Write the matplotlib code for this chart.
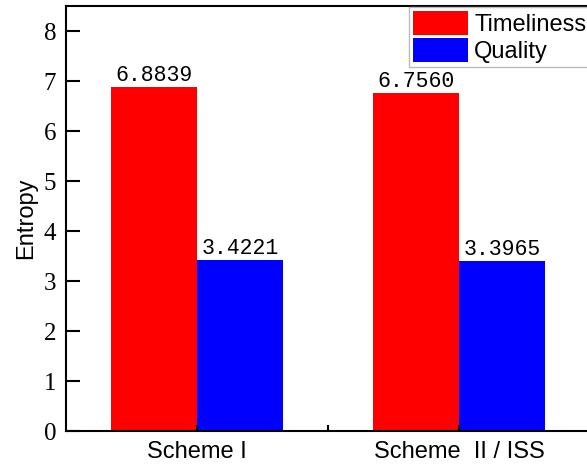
import matplotlib
matplotlib.use('Agg')
import matplotlib.pyplot as plt
import numpy as np

# data
groups = ['Scheme I', 'Scheme  II / ISS']
timeliness = [6.8839, 6.7560]
quality = [3.4221, 3.3965]
series_names = ['Timeliness', 'Quality']

fig = plt.figure(figsize=(5.87, 4.65), dpi=100)
ax = fig.add_axes([66/587, 34/465, 524/587, 425/465])

x = np.arange(1, len(groups) + 1)
w = 0.33
b1 = ax.bar(x - w/2, timeliness, w, color='#ff0000', label=series_names[0], zorder=1)
b2 = ax.bar(x + w/2, quality, w, color='#0000ff', label=series_names[1], zorder=1)

for bars, vals in ((b1, timeliness), (b2, quality)):
    for rect, v in zip(bars, vals):
        ax.text(rect.get_x() + rect.get_width()/2, v + 0.02, f'{v:.4f}',
                ha='center', va='bottom', fontsize=15.5, family='Liberation Mono')

ax.set_xlim(0.5, 2.5)
ax.set_ylim(0, 8.5)
ax.set_yticks(range(0, 9))
ax.set_xticks(x)
ax.set_xticklabels(groups, fontsize=17, family='Liberation Sans')
ax.set_xticks([1.5], minor=True)
for lab in ax.get_yticklabels():
    lab.set_family('Liberation Serif')
    lab.set_fontsize(18)
ax.tick_params(axis='y', direction='in', length=10, width=1.5, pad=7)
ax.tick_params(axis='x', which='both', direction='in', length=4, width=1.5, pad=7)
for s in ax.spines.values():
    s.set_linewidth(1.5)
    s.set_zorder(5)
ax.set_ylabel('Entropy', fontsize=17, family='Liberation Sans', labelpad=5)

leg = fig.legend(loc='upper left', bbox_to_anchor=(409/587, 1 - 7/465),
                 prop={'family': 'Liberation Sans', 'size': 17},
                 handlelength=2.3, handleheight=1.14, labelspacing=0.1,
                 handletextpad=0.28, borderpad=0.18, borderaxespad=0,
                 fancybox=False, framealpha=1)
leg.get_frame().set_edgecolor('#bbbbbb')
leg.get_frame().set_linewidth(1.0)

fig.savefig('out.png', dpi=100)
